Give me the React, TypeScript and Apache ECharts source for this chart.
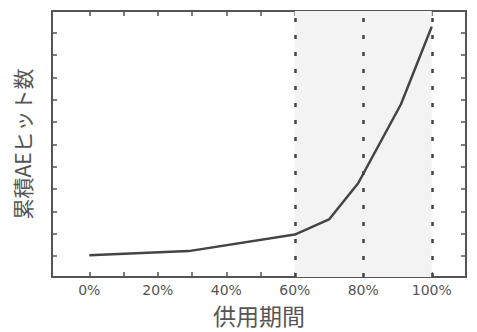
import React, { useEffect, useRef } from "react";
import * as echarts from "echarts";

const xValues = [0, 29, 60, 70, 78.5, 91, 100];
const yValues = [0.02, 0.11, 0.48, 0.82, 1.63, 3.4, 5.14];
const xLabelTicks = [0, 20, 40, 60, 80, 100];
const xTicks = [0, 10, 20, 30, 40, 50, 60, 70, 80, 90, 100];
const yTicks = [0, 0.5, 1, 1.5, 2, 2.5, 3, 3.5, 4, 4.5, 5];
const dottedAt = [60, 80, 100];
const shadeRange = [60, 100];
const xTitle = "供用期間";
const yTitle = "累積AEヒット数";

const X_MIN = -10.9;
const X_MAX = 110;
const Y_MIN = -0.47;
const Y_MAX = 5.49;
const FRAME = "#555";
const TEXT = "#555";

export default function App() {
  const ref = useRef<HTMLDivElement>(null);
  useEffect(() => {
    if (!ref.current) return;
    document.body.style.margin = "0";
    const chart = echarts.init(ref.current, undefined, { renderer: "svg" });
    const xBase = (pos: string, labels: boolean) => ({
      type: "value",
      position: pos,
      min: X_MIN,
      max: X_MAX,
      axisLine: { show: true, onZero: false, lineStyle: { color: FRAME, width: 2 } },
      axisTick: { show: true, inside: true, length: 5, customValues: xTicks, lineStyle: { color: FRAME, width: 1.5 } },
      axisLabel: labels
        ? {
            show: true,
            customValues: xLabelTicks,
            formatter: (v: number) => `${v}%`,
            color: TEXT,
            fontSize: 14,
            fontFamily: "DejaVu Sans",
            margin: 6,
          }
        : { show: false },
      splitLine: { show: false },
    });
    const yBase = (pos: string) => ({
      type: "value",
      position: pos,
      min: Y_MIN,
      max: Y_MAX,
      axisLine: { show: true, onZero: false, lineStyle: { color: FRAME, width: 2 } },
      axisTick: { show: true, inside: true, length: 5, customValues: yTicks, lineStyle: { color: FRAME, width: 1.5 } },
      axisLabel: { show: false },
      splitLine: { show: false },
    });
    const x0: any = xBase("bottom", true);
    x0.name = xTitle;
    x0.nameLocation = "middle";
    x0.nameGap = 26;
    x0.nameTextStyle = { color: TEXT, fontSize: 23, fontFamily: "Noto Sans CJK JP" };
    const y0: any = yBase("left");
    y0.name = yTitle;
    y0.nameLocation = "middle";
    y0.nameGap = 20;
    y0.nameTextStyle = { color: TEXT, fontSize: 21, fontFamily: "Noto Sans CJK JP" };
    chart.setOption({
      animation: false,
      backgroundColor: "#fff",
      grid: { left: 52, right: 11, top: 11, bottom: 55 },
      xAxis: [x0, xBase("top", false)],
      yAxis: [y0, yBase("right")],
      series: [
        {
          type: "line",
          xAxisIndex: 0,
          yAxisIndex: 0,
          data: xValues.map((x, i) => [x, yValues[i]]),
          symbol: "none",
          lineStyle: { color: "#444", width: 2.5 },
          markArea: {
            silent: true,
            itemStyle: { color: "#f3f3f3" },
            data: [[{ xAxis: shadeRange[0] }, { xAxis: shadeRange[1] }]],
          },
          markLine: {
            silent: true,
            symbol: "none",
            label: { show: false },
            lineStyle: { color: "#444", width: 2.5, type: [4, 13] },
            data: dottedAt.map((v) => ({ xAxis: v })),
          },
          z: 3,
        },
      ],
    });
    return () => chart.dispose();
  }, []);
  return <div ref={ref} style={{ width: 477, height: 332 }} />;
}
